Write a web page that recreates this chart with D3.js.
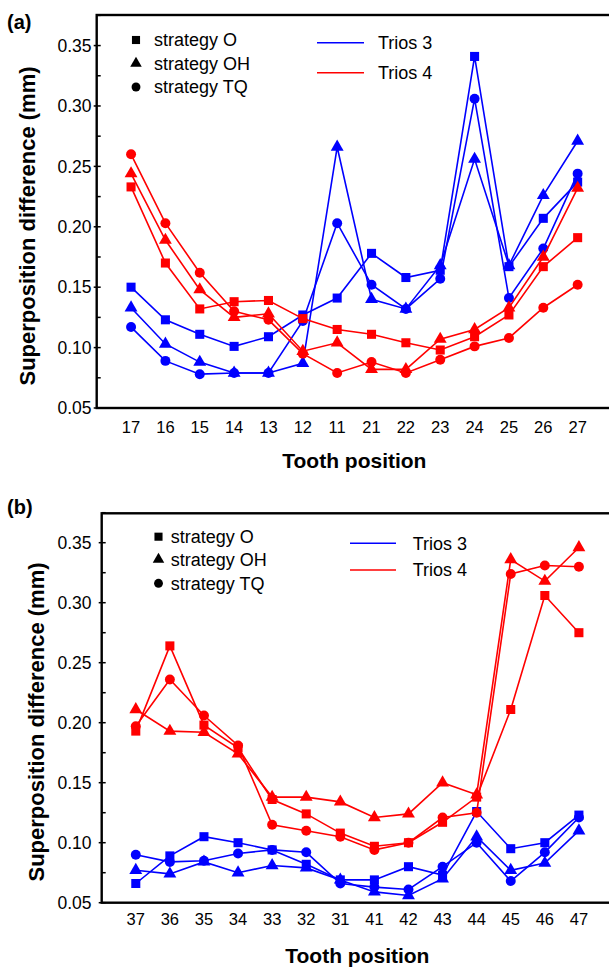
<!DOCTYPE html>
<html>
<head>
<meta charset="utf-8">
<script src="https://cdn.jsdelivr.net/npm/d3@7"></script>
<style>
  body { margin: 0; background: #fff; }
  svg { display: block; font-family: "Liberation Sans", Arial, sans-serif; }
</style>
</head>
<body>
<svg id="chart" width="609" height="967"></svg>
<script>
// panel (a) - maxillary teeth
var teethA = ["17","16","15","14","13","12","11","21","22","23","24","25","26","27"];
var trios3A_O  = [0.150,0.123,0.111,0.101,0.109,0.127,0.141,0.178,0.158,0.164,0.341,0.167,0.207,0.237];
var trios3A_OH = [0.133,0.103,0.088,0.079,0.079,0.087,0.266,0.140,0.132,0.168,0.256,0.168,0.226,0.271];
var trios3A_TQ = [0.117,0.089,0.078,0.079,0.079,0.122,0.203,0.152,0.132,0.157,0.306,0.141,0.182,0.244];
var trios4A_O  = [0.233,0.170,0.132,0.138,0.139,0.124,0.115,0.111,0.104,0.098,0.109,0.127,0.167,0.191];
var trios4A_OH = [0.244,0.189,0.148,0.125,0.128,0.097,0.104,0.082,0.082,0.107,0.115,0.133,0.175,0.232];
var trios4A_TQ = [0.260,0.203,0.162,0.130,0.123,0.095,0.079,0.088,0.079,0.090,0.101,0.108,0.133,0.152];

// panel (b) - mandibular teeth
var teethB = ["37","36","35","34","33","32","31","41","42","43","44","45","46","47"];
var trios3B_O  = [0.066,0.089,0.105,0.100,0.094,0.082,0.069,0.069,0.080,0.073,0.126,0.095,0.100,0.123];
var trios3B_OH = [0.077,0.074,0.084,0.075,0.081,0.079,0.069,0.059,0.056,0.070,0.105,0.077,0.083,0.110];
var trios3B_TQ = [0.090,0.084,0.085,0.091,0.094,0.092,0.066,0.063,0.061,0.080,0.100,0.068,0.092,0.121];
var trios4B_O  = [0.193,0.264,0.198,0.179,0.136,0.124,0.108,0.097,0.100,0.117,0.138,0.211,0.306,0.275];
var trios4B_OH = [0.211,0.193,0.192,0.174,0.138,0.138,0.134,0.121,0.124,0.150,0.140,0.336,0.318,0.346];
var trios4B_TQ = [0.197,0.236,0.206,0.181,0.115,0.110,0.105,0.094,0.100,0.121,0.125,0.324,0.331,0.330];

var yTicks = [0.05, 0.10, 0.15, 0.20, 0.25, 0.30, 0.35];
var strategies = ["strategy O", "strategy OH", "strategy TQ"];
var scanners = ["Trios 3", "Trios 4"];

var colors = {"Trios 3": "#0000ff", "Trios 4": "#ff0000"};
var shapes = {"strategy O": d3.symbolSquare, "strategy OH": d3.symbolTriangle, "strategy TQ": d3.symbolCircle};
var sizes = {"strategy O": 82, "strategy OH": 72, "strategy TQ": 78};

var svg = d3.select("#chart");

function drawPanel(cfg) {
    var g = svg.append("g");

    var x = d3.scalePoint()
        .domain(cfg.teeth)
        .range([cfg.left, cfg.right])
        .padding(1);

    var y = d3.scaleLinear()
        .domain([0.05, cfg.yMax])
        .range([cfg.bottom, cfg.top]);

    // minor ticks (inside) and major ticks
    var minor = d3.range(0.05, 0.3751, 0.025);
    g.selectAll(".minor").data(minor).enter().append("line")
        .attr("x1", cfg.left).attr("x2", cfg.left + 4)
        .attr("y1", d => y(d)).attr("y2", d => y(d))
        .attr("stroke", "#000").attr("stroke-width", 1.5);
    g.selectAll(".major").data(yTicks).enter().append("line")
        .attr("x1", cfg.left - 3).attr("x2", cfg.left)
        .attr("y1", d => y(d)).attr("y2", d => y(d))
        .attr("stroke", "#000").attr("stroke-width", 1.5);

    g.selectAll(".ylab").data(yTicks).enter().append("text")
        .attr("x", cfg.tickRight)
        .attr("y", d => y(d))
        .attr("dy", "0.36em")
        .attr("text-anchor", "end")
        .style("font-size", "17.5px")
        .text(d => d3.format(".2f")(d));

    g.selectAll(".xlab").data(cfg.teeth).enter().append("text")
        .attr("x", d => x(d))
        .attr("y", cfg.xTickY)
        .attr("dy", "0.36em")
        .attr("text-anchor", "middle")
        .style("font-size", "16.5px")
        .text(d => d);

    // frame
    g.append("rect")
        .attr("x", cfg.left).attr("y", cfg.top)
        .attr("width", cfg.right - cfg.left).attr("height", cfg.bottom - cfg.top)
        .attr("fill", "none").attr("stroke", "#000").attr("stroke-width", 2.4);

    g.append("text")
        .attr("x", (cfg.left + cfg.right) / 2)
        .attr("y", cfg.xTitleY)
        .attr("dy", "0.36em")
        .attr("text-anchor", "middle")
        .style("font-size", "21px").style("font-weight", "bold")
        .text("Tooth position");

    g.append("text")
        .attr("transform", "translate(" + cfg.yTitleX + "," + cfg.yTitleY + ") rotate(-90)")
        .attr("dy", "0.36em")
        .attr("text-anchor", "middle")
        .style("font-size", "22px").style("font-weight", "bold")
        .text("Superposition difference (mm)");

    g.append("text")
        .attr("x", 7).attr("y", cfg.letterY)
        .attr("dy", "0.36em")
        .style("font-size", "20px").style("font-weight", "bold")
        .text(cfg.letter);

    var line = d3.line()
        .x(d => x(d.tooth))
        .y(d => y(d.value));

    cfg.series.forEach(function (s) {
        var pts = cfg.teeth.map((t, i) => ({tooth: t, value: s.values[i]}));
        g.append("path")
            .datum(pts)
            .attr("d", line)
            .attr("fill", "none")
            .attr("stroke", colors[s.scanner])
            .attr("stroke-width", 1.6);
        g.selectAll(null).data(pts).enter().append("path")
            .attr("transform", d => "translate(" + x(d.tooth) + "," + y(d.value) + ")")
            .attr("d", d3.symbol().type(shapes[s.strategy]).size(sizes[s.strategy]))
            .attr("fill", colors[s.scanner]);
    });

    // legend: strategies
    strategies.forEach(function (st, i) {
        var ly = cfg.legY[i];
        g.append("path")
            .attr("transform", "translate(" + cfg.legMarkX + "," + ly + ")")
            .attr("d", d3.symbol().type(shapes[st]).size(sizes[st] * 0.8))
            .attr("fill", "#000");
        g.append("text")
            .attr("x", cfg.legTextX).attr("y", ly)
            .attr("dy", "0.36em")
            .style("font-size", "18px")
            .text(st);
    });

    // legend: scanners
    scanners.forEach(function (sc, i) {
        var ly = cfg.scanY[i];
        g.append("line")
            .attr("x1", cfg.scanX1).attr("x2", cfg.scanX2)
            .attr("y1", ly).attr("y2", ly)
            .attr("stroke", colors[sc]).attr("stroke-width", 1.6);
        g.append("text")
            .attr("x", cfg.scanTextX).attr("y", ly)
            .attr("dy", "0.36em")
            .style("font-size", "18px")
            .text(sc);
    });
}

drawPanel({
    teeth: teethA, letter: "(a)", letterY: 22,
    left: 96.7, right: 612, top: 15, bottom: 408, yMax: 0.3753,
    tickRight: 91.5, xTickY: 427, xTitleY: 460, yTitleX: 27, yTitleY: 226,
    legMarkX: 136, legTextX: 154, legY: [40, 63.5, 87],
    scanX1: 317, scanX2: 364, scanTextX: 378, scanY: [42.7, 72.7],
    series: [
        {scanner: "Trios 3", strategy: "strategy O", values: trios3A_O},
        {scanner: "Trios 3", strategy: "strategy OH", values: trios3A_OH},
        {scanner: "Trios 3", strategy: "strategy TQ", values: trios3A_TQ},
        {scanner: "Trios 4", strategy: "strategy O", values: trios4A_O},
        {scanner: "Trios 4", strategy: "strategy OH", values: trios4A_OH},
        {scanner: "Trios 4", strategy: "strategy TQ", values: trios4A_TQ}
    ]
});

drawPanel({
    teeth: teethB, letter: "(b)", letterY: 507,
    left: 101.7, right: 613, top: 513.3, bottom: 902.7, yMax: 0.3745,
    tickRight: 91.5, xTickY: 919, xTitleY: 955, yTitleX: 36, yTitleY: 722,
    legMarkX: 158.5, legTextX: 170.7, legY: [536.7, 559.3, 583.3],
    scanX1: 350, scanX2: 396, scanTextX: 412.7, scanY: [543.3, 570],
    series: [
        {scanner: "Trios 3", strategy: "strategy O", values: trios3B_O},
        {scanner: "Trios 3", strategy: "strategy OH", values: trios3B_OH},
        {scanner: "Trios 3", strategy: "strategy TQ", values: trios3B_TQ},
        {scanner: "Trios 4", strategy: "strategy O", values: trios4B_O},
        {scanner: "Trios 4", strategy: "strategy OH", values: trios4B_OH},
        {scanner: "Trios 4", strategy: "strategy TQ", values: trios4B_TQ}
    ]
});
</script>
</body>
</html>
